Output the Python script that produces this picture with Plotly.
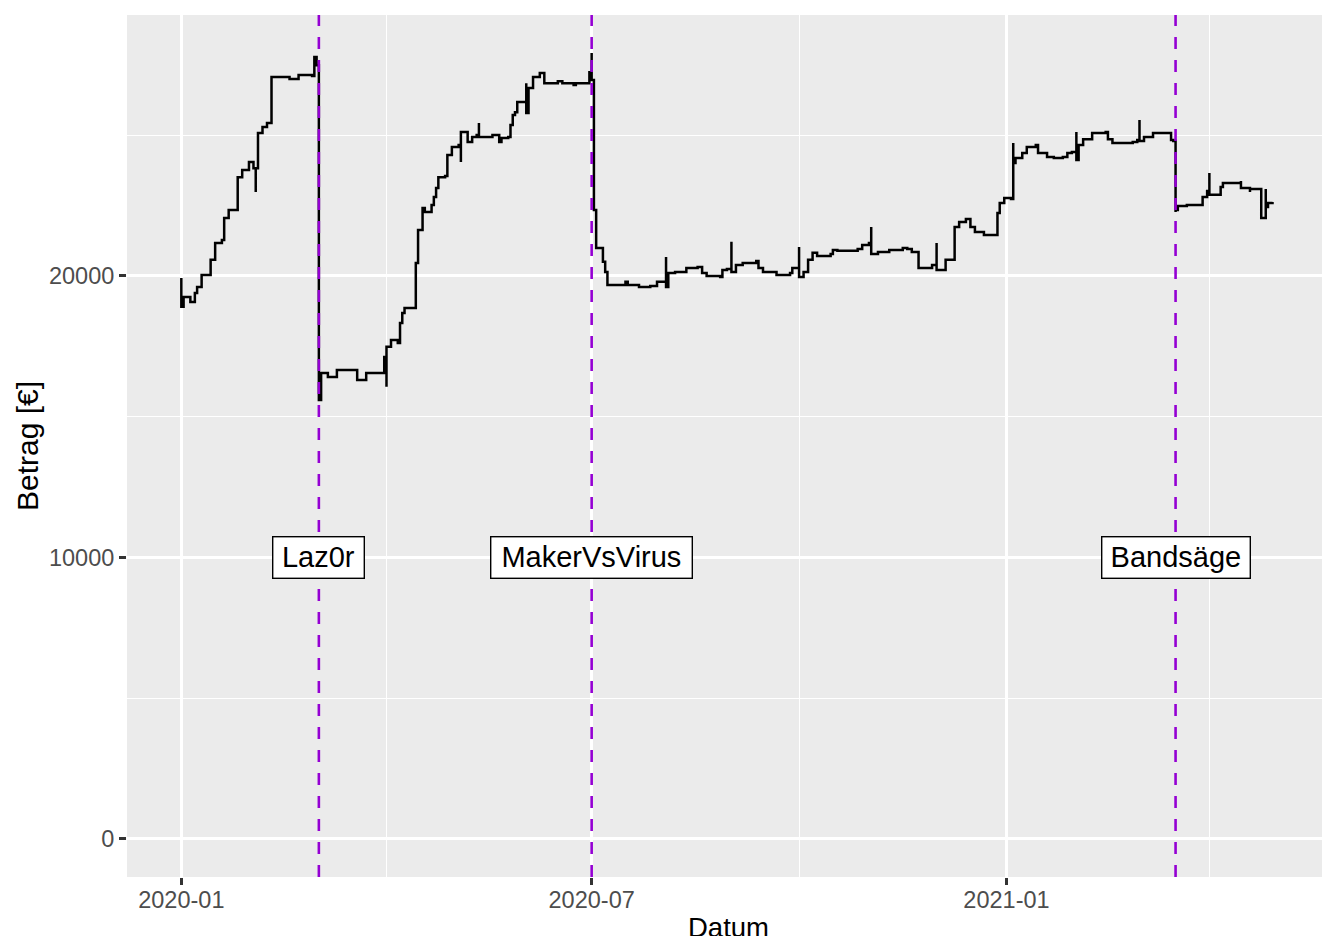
import pandas as pd
import plotly.graph_objects as go

# ---- data ----
START = "2020-01-01"
# days since 2020-01-01
tag_seit_start = [
    0, 0, 1, 4, 6, 7, 9, 13, 13, 15, 18, 19, 21, 25, 25, 27, 30, 32, 33, 33,
    34, 36, 38, 40, 40, 48, 52, 58, 59, 59, 60, 61, 61, 62,
    65, 69, 78, 78, 82, 89, 90, 91, 91, 93, 96, 97, 98, 99, 104, 104,
    105, 107, 108, 111, 112, 113, 114, 117, 118, 118, 120, 123, 124, 124, 127, 129, 131, 132,
    132, 135, 138, 141, 142, 145, 146, 147, 148, 149, 152, 153, 153, 154, 156, 159, 161, 167,
    169, 174, 175, 180, 181, 182, 182, 183, 184, 187, 187, 188, 189,
    196, 197, 198, 203, 208, 211, 215, 215, 215, 216, 219, 224, 229, 231, 233, 239, 240, 242,
    244, 244, 246, 249, 255, 256, 258, 264, 270, 271, 274, 274, 276, 278, 280, 282, 288, 289,
    291, 300, 302, 305, 306, 306, 309, 314, 320, 322, 324, 327, 327, 331, 333, 335, 335, 339,
    342, 343, 343, 345, 348, 350, 352, 356, 361, 362, 363, 365, 368, 369, 369, 370, 373, 375,
    379, 380, 384, 384, 387, 391, 393, 395, 397, 397, 398, 400, 404, 404, 410, 411, 413, 419,
    422, 424, 425, 425, 427, 431, 438, 439, 440, 441, 441, 442, 446, 453, 453, 455, 456, 456,
    460, 461, 462, 470, 470, 474, 474, 478, 479, 480, 481, 481, 482, 484,
]
betrag = [
    19930, 18900, 19250, 19070, 19390, 19610, 20030, 20210, 20570, 21170, 21280, 22060, 22340,
    22380, 23510, 23760, 24050, 23830, 22980, 23830,
    25080, 25290, 25430, 25540, 27070, 27000, 27140, 27100, 27240, 27780, 27490, 27490, 15590, 16550,
    16410, 16660, 16660, 16300, 16550, 16550, 17120, 16060, 17480, 17720, 17620, 18330, 18680,
    18860, 18900, 20460,
    21630, 22410, 22270, 22520, 22800, 23120, 23510, 23550, 23870, 24300, 24580, 24650, 24050,
    25110, 24760, 24940, 25010, 25430,
    24940, 24940, 25010, 24760, 24900, 24940, 25360, 25720, 25820, 26180, 26180, 26850, 25790,
    26680, 27070, 27210, 26850, 26920,
    26850, 26780, 26850, 26850, 27240, 27920, 26960, 22340, 20990, 20990, 20500, 20140, 19680,
    19680, 19790, 19680, 19610, 19640, 19790, 19930, 20670, 19610, 20100, 20140, 20280, 20320,
    20100, 20000, 19960, 20210, 20250,
    21210, 20140, 20390, 20460, 20530, 20280, 20140, 20030, 20100, 20280, 21030, 19960, 20140,
    20570, 20820, 20710, 20780, 20920,
    20890, 20960, 21100, 21170, 21740, 20780, 20850, 20920, 20990, 20960, 20850, 20780, 20280,
    20280, 20390, 21170, 20210, 20570,
    20570, 21170, 21740, 21920, 22020, 21740, 21560, 21450, 21450, 22240, 22590, 22770, 22730,
    24720, 24010, 24190, 24370, 24580,
    24650, 24370, 24370, 24230, 24190, 24230, 24370, 24400, 25110, 24120, 24650, 24860, 24900,
    25080, 25110, 24860, 24720, 24720,
    24760, 24830, 25540, 24790, 24940, 25080, 25080, 24830, 24790, 22270, 22340, 22480, 22520,
    22520, 22800, 23020, 23660, 22880,
    22880, 23160, 23300, 23370, 23120, 22980, 23090, 23090, 22060, 22060, 23090, 22450, 22590, 22630,
]

ereignis_datum = ["2020-03-02", "2020-07-01", "2021-03-17"]
ereignis_name = ["Laz0r", "MakerVsVirus", "Bandsäge"]
label_betrag = 10000

x_ticks_major = "M6"
x_ticks_minor = "M3"
y_dtick = 10000

# ---- styling (not data) ----
label_box_width = [82, 192, 139]
FONT = "Liberation Sans, Arial, Helvetica, sans-serif"

# ---- build ----
base = pd.Timestamp(START)
datum = base + pd.to_timedelta(tag_seit_start, unit="D")

fig = go.Figure()
fig.add_trace(go.Scatter(
    x=datum, y=betrag, mode="lines",
    line=dict(color="black", width=2.5, shape="hv"),
    showlegend=False, hoverinfo="skip",
))

for d in ereignis_datum:
    fig.add_shape(type="line", xref="x", yref="paper", x0=d, x1=d, y0=0, y1=1,
                  line=dict(color="#9400D3", width=2.6, dash="12px,11px"), layer="above")

for d, n, w in zip(ereignis_datum, ereignis_name, label_box_width):
    fig.add_annotation(x=d, y=label_betrag, xref="x", yref="y", text=n, showarrow=False,
                       font=dict(family=FONT, size=29, color="black"), width=w, align="center",
                       bgcolor="white", bordercolor="black", borderwidth=1.4, borderpad=4,
                       xanchor="center", yanchor="middle")

# axis titles
fig.add_annotation(x=0.5, y=0, xref="paper", yref="paper", text="Datum", showarrow=False,
                   font=dict(family=FONT, size=27.5, color="black"),
                   xanchor="center", yanchor="middle", yshift=-50)
fig.add_annotation(x=0, y=0.5, xref="paper", yref="paper", text="Betrag [€]", showarrow=False,
                   font=dict(family=FONT, size=30, color="black"), textangle=-90,
                   xanchor="center", yanchor="middle", xshift=-100)

x0 = base + pd.Timedelta(days=-24.1)
x1 = base + pd.Timedelta(days=509.5)

# the page body adds an 8px offset; margins below compensate so the panel
# sits where it does in the reference
fig.update_layout(
    width=1322, height=928,
    margin=dict(l=119, r=0, t=7, b=59, pad=0),
    paper_bgcolor="white", plot_bgcolor="#EBEBEB",
    font=dict(family=FONT),
    xaxis=dict(
        type="date", range=[x0, x1], tick0=START, dtick=x_ticks_major, tickformat="%Y-%m",
        showgrid=True, gridcolor="white", gridwidth=2.7, zeroline=False, showline=False,
        ticks="outside", ticklen=7, tickwidth=2.7, tickcolor="#333333",
        ticklabelstandoff=-5,
        tickfont=dict(family=FONT, size=23.5, color="#4D4D4D"),
        minor=dict(dtick=x_ticks_minor, tick0=START, showgrid=True, gridcolor="white", gridwidth=1.4, ticks=""),
        automargin=False,
    ),
    yaxis=dict(
        range=[-1361, 29272], tick0=0, dtick=y_dtick, tickformat="d",
        showgrid=True, gridcolor="white", gridwidth=2.7, zeroline=False, showline=False,
        ticks="outside", ticklen=7, tickwidth=2.7, tickcolor="#333333",
        tickfont=dict(family=FONT, size=23.5, color="#4D4D4D"),
        minor=dict(dtick=5000, showgrid=True, gridcolor="white", gridwidth=1.4, ticks=""),
        automargin=False,
    ),
)

fig.write_html("out.html")
